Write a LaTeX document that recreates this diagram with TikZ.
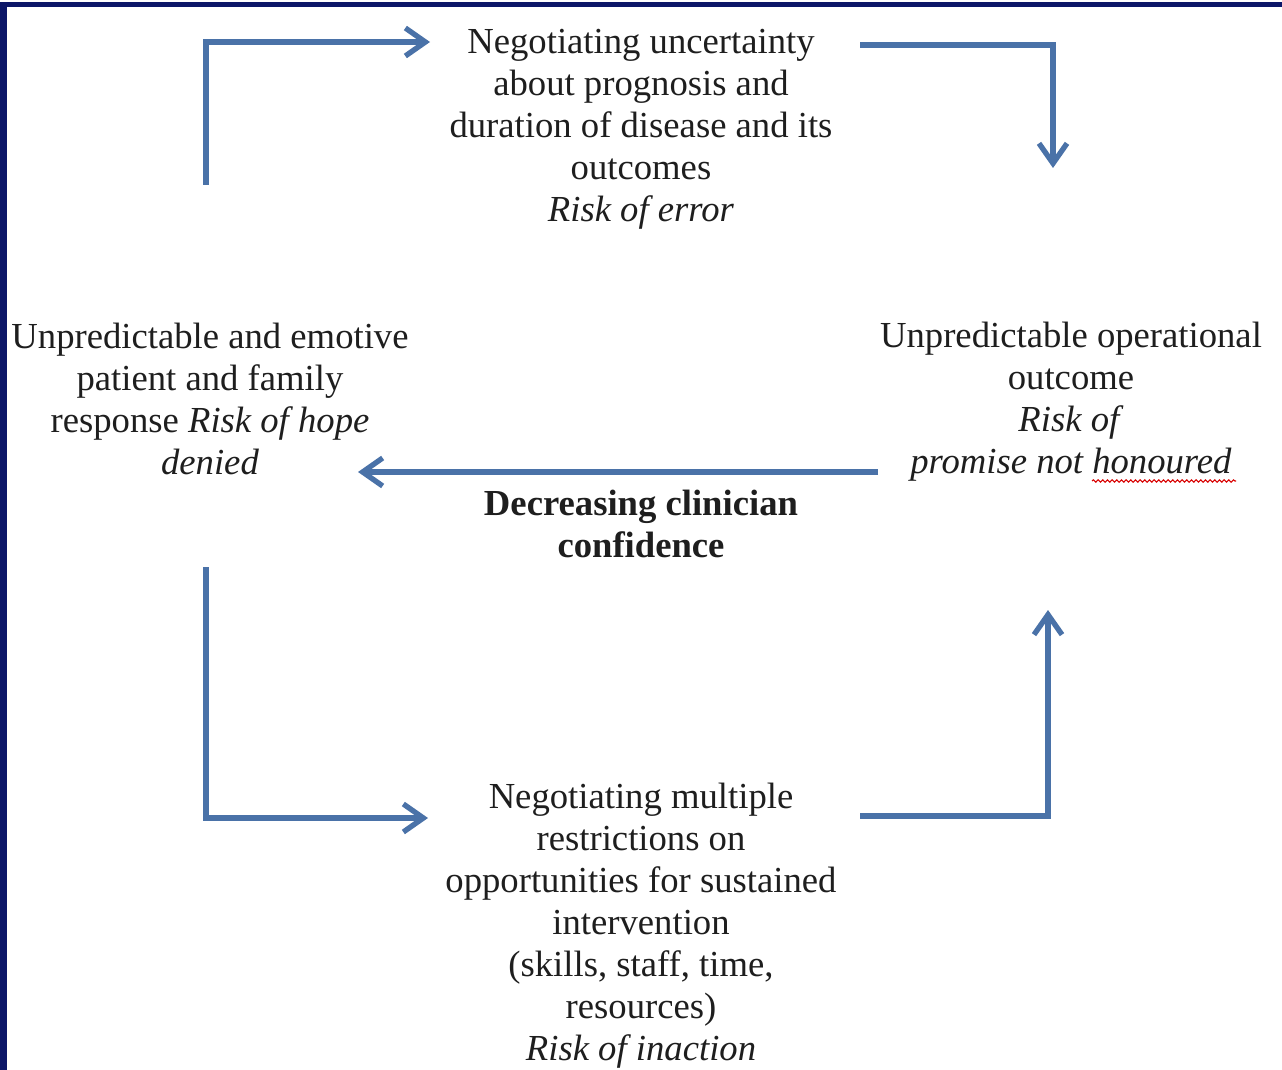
\documentclass[tikz,border=0pt]{standalone}
\usepackage{fontspec}
\setmainfont{Liberation Serif}
\usetikzlibrary{arrows.meta,decorations.pathmorphing}
\definecolor{arrowblue}{RGB}{74,114,168}
\definecolor{framenavy}{RGB}{12,22,104}
\definecolor{textgray}{RGB}{30,30,30}

\begin{document}
\begin{tikzpicture}[x=0.75pt,y=-0.75pt,
  label/.style={align=center,text=textgray,inner sep=0pt,
    font=\fontsize{27.5}{31.5}\selectfont},
  flow/.style={draw=arrowblue,line width=4pt,
    -{Straight Barb[length=15pt,width=21pt]}}]
  % Fix the page and draw the frame
  \useasboundingbox (0,0) rectangle (1282,1070);
  \fill[white] (0,0) rectangle (1282,1070);
  \fill[framenavy] (0,2) rectangle (1282,7);
  \fill[framenavy] (0,2) rectangle (7,1070);

  % Draw the four stages
  \node[label] (top) at (641,129) {Negotiating uncertainty\\about prognosis and\\duration of disease and its\\outcomes\\\textit{Risk of error}};
  \node[label] (right) at (1071,402) {Unpredictable operational\\outcome\\\textit{Risk of}\\\textit{promise not honoured}};
  \node[label] (bottom) at (641,926) {Negotiating multiple\\restrictions on\\opportunities for sustained\\intervention\\(skills, staff, time,\\resources)\\\textit{Risk of inaction}};
  \node[label] (left) at (210,399) {Unpredictable and emotive\\patient and family\\response \textit{Risk of hope}\\\textit{denied}};
  \node[label,font=\fontsize{27.5}{31.5}\selectfont\bfseries] (conf) at (641,524) {Decreasing clinician\\confidence};

  % Spell check mark
  \draw[red!85!black,line width=0.8pt,decorate,
    decoration={snake,amplitude=0.9pt,segment length=3.5pt}] (1092,481) -- (1236,481);

  % Draw the arrow ends
  \coordinate (a1) at (206,185);
  \coordinate (b1) at (430,42);
  \coordinate (a2) at (860,45);
  \coordinate (b2) at (1053,168);
  \coordinate (a3) at (878,472);
  \coordinate (b3) at (358,472);
  \coordinate (a4) at (206,567);
  \coordinate (b4) at (428,818);
  \coordinate (a5) at (860,816);
  \coordinate (b5) at (1048,610);

  % Draw the arrows
  \draw[flow] (a1) |- (b1);
  \draw[flow] (a2) -| (b2);
  \draw[flow] (a3) -- (b3);
  \draw[flow] (a4) |- (b4);
  \draw[flow] (a5) -| (b5);

\end{tikzpicture}
\end{document}
